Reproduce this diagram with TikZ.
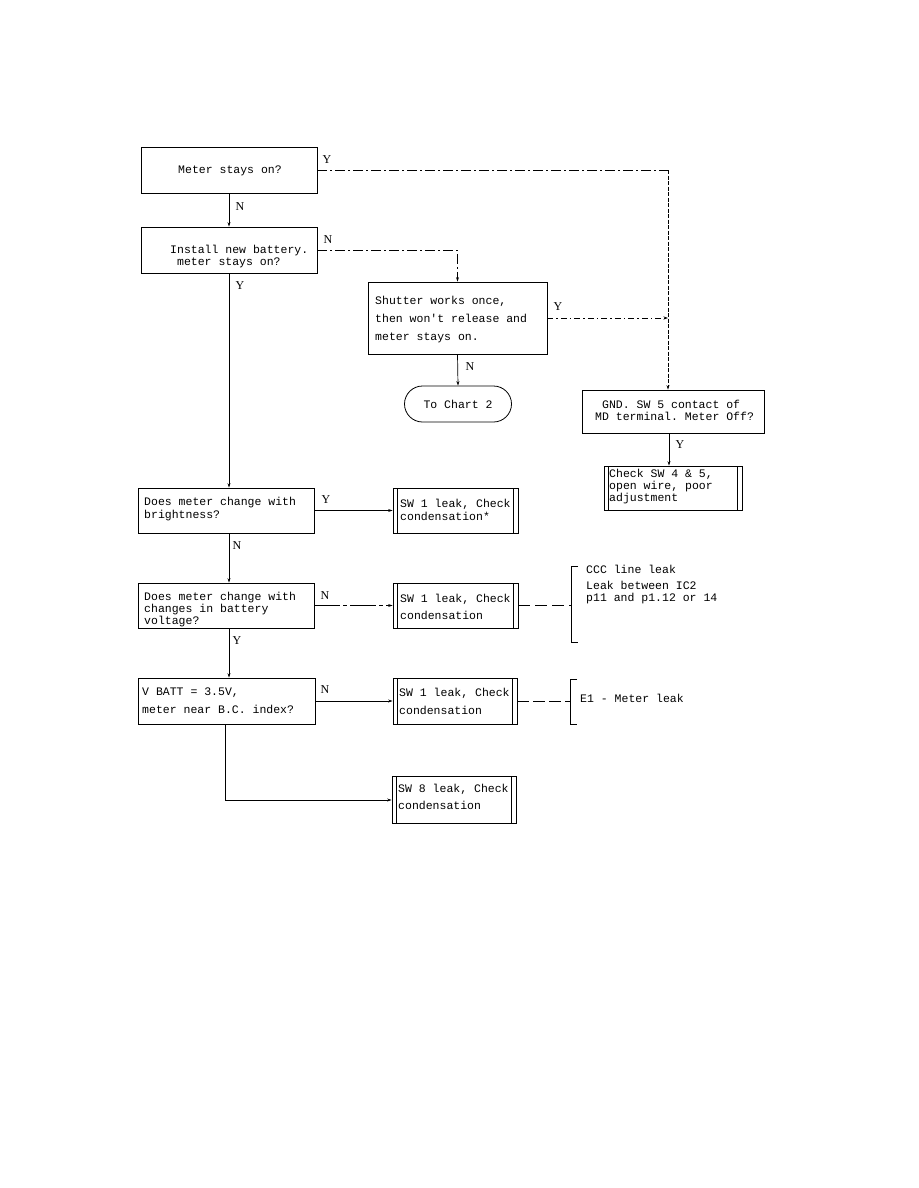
\documentclass[tikz,border=0pt]{standalone}
\usepackage{fontspec}
\setmainfont{Liberation Serif}
\setmonofont{Liberation Mono}
\usetikzlibrary{arrows.meta,shapes.misc}
\begin{document}
\begin{tikzpicture}[x=1pt,y=-1pt,
  box/.style={draw, line width=0.8pt, inner sep=0pt},
  procbox/.style={box, path picture={
     \draw[line width=0.7pt] ([xshift=4.5pt]path picture bounding box.north west) -- ([xshift=4.5pt]path picture bounding box.south west);
     \draw[line width=0.7pt] ([xshift=-4.5pt]path picture bounding box.north east) -- ([xshift=-4.5pt]path picture bounding box.south east);}},
  txt/.style={inner sep=0pt, anchor=west, align=left, font=\ttfamily\fontsize{11.5}{12}\selectfont},
  lab/.style={inner sep=0pt, font=\rmfamily\fontsize{12}{12}\selectfont},
  arr/.style={line width=0.7pt, -{Stealth[length=4.5pt,width=3pt]}},
  ln/.style={line width=0.7pt},
  dd/.style={dash pattern=on 10pt off 3pt on 2pt off 3pt},
  vd/.style={dash pattern=on 4pt off 1.5pt},
]
\useasboundingbox[fill=white] (0,0) rectangle (918,1188);

% boxes
\node[box, minimum width=176pt, minimum height=46pt] (b1) at (229,170) {};
\node[box, minimum width=176pt, minimum height=46pt] (b2) at (229,250) {};
\node[box, minimum width=179pt, minimum height=72pt] (b3) at (457.5,318) {};
\node[box, rounded rectangle, minimum width=107pt, minimum height=36pt,
      font=\ttfamily\fontsize{11.5}{12}\selectfont] (b4) at (458,404) {To Chart 2};
\node[box, minimum width=182pt, minimum height=43pt] (b5) at (673,411.5) {};
\node[procbox, minimum width=138pt, minimum height=44pt] (b6) at (673,488) {};
\node[box, minimum width=176pt, minimum height=45pt] (b7) at (226,510.5) {};
\node[procbox, minimum width=125pt, minimum height=45pt] (b8) at (455.5,510.5) {};
\node[box, minimum width=176pt, minimum height=45pt] (b9) at (226,605.5) {};
\node[procbox, minimum width=125pt, minimum height=45pt] (b10) at (455.5,605.5) {};
\node[box, minimum width=177pt, minimum height=46pt] (b11) at (226.5,701) {};
\node[procbox, minimum width=124pt, minimum height=46pt] (b12) at (455,701) {};
\node[procbox, minimum width=124pt, minimum height=47pt] (b13) at (454,799.5) {};

% texts
\node[txt] (t1) at (178,171) {Meter stays on?};
\node[txt, font=\ttfamily\fontsize{11.5}{11.5}\selectfont] (t2) at (170,256.5) {Install new battery.\\\hspace*{6.9pt}meter stays on?};
\node[txt, font=\ttfamily\fontsize{11.5}{18}\selectfont] (t3) at (375,320) {Shutter works once,\\then won't release and\\meter stays on.};
\node[txt, font=\ttfamily\fontsize{11.5}{12}\selectfont] (t5) at (595,410.5) {\hspace*{6.9pt}GND. SW 5 contact of\\MD terminal. Meter Off?};
\node[txt, font=\ttfamily\fontsize{11.5}{12}\selectfont] (t6) at (609,487) {Check SW 4 \& 5,\\open wire, poor\\adjustment};
\node[txt, font=\ttfamily\fontsize{11.5}{13}\selectfont] (t7) at (144,509.5) {Does meter change with\\brightness?};
\node[txt, font=\ttfamily\fontsize{11.5}{13}\selectfont] (t8) at (400,509.5) {SW 1 leak, Check\\condensation*};
\node[txt, font=\ttfamily\fontsize{11.5}{12}\selectfont] (t9) at (144,609.5) {Does meter change with\\changes in battery\\voltage?};
\node[txt, font=\ttfamily\fontsize{11.5}{17}\selectfont] (t10) at (400,606.5) {SW 1 leak, Check\\condensation};
\node[txt, font=\ttfamily\fontsize{11.5}{18}\selectfont] (t11) at (142,701) {V BATT = 3.5V,\\meter near B.C. index?};
\node[txt, font=\ttfamily\fontsize{11.5}{18}\selectfont] (t12) at (399,701) {SW 1 leak, Check\\condensation};
\node[txt, font=\ttfamily\fontsize{11.5}{17}\selectfont] (t13) at (398,796.5) {SW 8 leak, Check\\condensation};
\node[txt] (c1) at (586,569) {CCC line leak};
\node[txt, font=\ttfamily\fontsize{11.5}{12}\selectfont] (c2) at (586,593) {Leak between IC2\\p11 and p1.12 or 14};
\node[txt] (e1) at (580,698) {E1 - Meter leak};

% Y/N labels
\node[lab] (ly1) at (327,160) {Y};
\node[lab] (ln1) at (240,207) {N};
\node[lab] (ln2) at (328,240) {N};
\node[lab] (ly2) at (240,286) {Y};
\node[lab] (ly3) at (558,307) {Y};
\node[lab] (ln3) at (470,367) {N};
\node[lab] (ly4) at (680,445) {Y};
\node[lab] (ly5) at (326,500) {Y};
\node[lab] (ln5) at (237,546) {N};
\node[lab] (ln6) at (325,596) {N};
\node[lab] (ly6) at (237,641) {Y};
\node[lab] (ln7) at (325,690) {N};

% connectors
\coordinate (cr) at (668,170);
\draw[ln,dd] (b1.east) -- (cr);
\draw[arr,vd] (cr) -- (cr |- b5.north);
\draw[arr] (b1.south) -- (b2.north);
\draw[arr,dd] (b2.east) -| (b3.north);
\draw[arr] (b2.south) -- (b2.south |- b7.north);
\coordinate (sy) at (668,318);
\draw[arr,dash pattern=on 6pt off 3pt on 1.5pt off 3pt] (b3.east) -- (sy);
\draw[arr] (b3.south) -- (b4.north);
\draw[arr] (b5.south -| 669,0) -- (669,0 |- b6.north);
\draw[arr] (b7.east) -- (b8.west);
\draw[arr] (b7.south -| 229,0) -- (229,0 |- b9.north);
\draw[arr,dash pattern=on 26pt off 3pt on 4pt off 3pt] (b9.east) -- (b10.west);
\draw[arr] (b9.south -| 229,0) -- (229,0 |- b11.north);
\draw[arr] (b11.east) -- (b12.west);
\coordinate (bl) at (225,800);
\draw[arr] (b11.south -| bl) -- (bl) -- (bl -| b13.west);

% brackets
\coordinate (k1t) at (571,566);
\coordinate (k1b) at (571,642);
\draw[ln] ([xshift=7pt]k1t) -- (k1t) -- (k1b) -- ([xshift=7pt]k1b);
\draw[ln,dash pattern=on 12pt off 5pt] (b10.east) -- (b10.east -| k1t);
\coordinate (k2t) at (570,679);
\coordinate (k2b) at (570,724);
\draw[ln] ([xshift=7pt]k2t) -- (k2t) -- (k2b) -- ([xshift=7pt]k2b);
\draw[ln,dash pattern=on 12pt off 4pt] (b12.east) -- (b12.east -| k2t);
\end{tikzpicture}
\end{document}
